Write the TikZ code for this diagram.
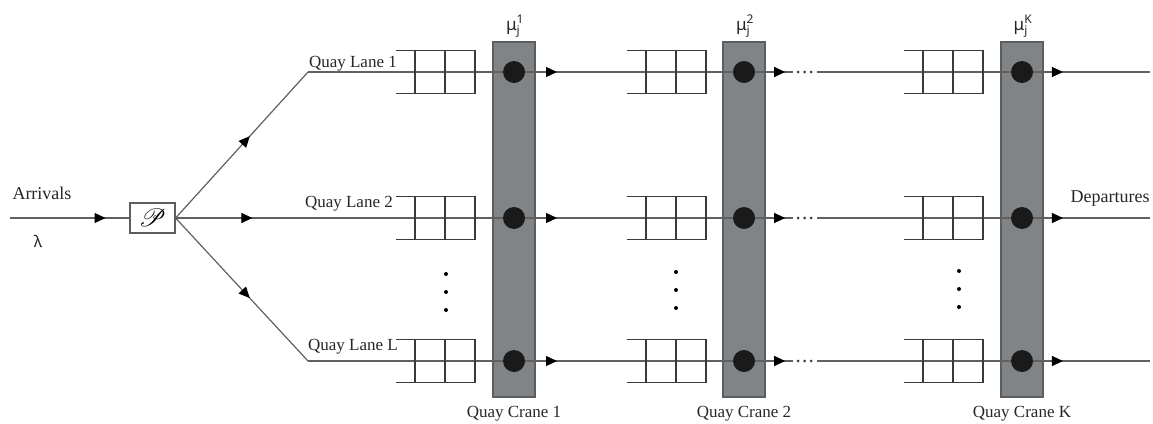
\documentclass[tikz,border=0pt]{standalone}
\usepackage{fontspec}
\usepackage{mathrsfs}
\setmainfont{Liberation Serif}
\newfontfamily\grk{Noto Sans}
\usetikzlibrary{arrows.meta,decorations.markings}
\definecolor{lanegray}{HTML}{606060}
\definecolor{qgray}{HTML}{3A3A3A}
\definecolor{cranefill}{HTML}{808486}
\definecolor{craneedge}{HTML}{5A5E60}
\definecolor{dotfill}{HTML}{1A1A1A}
\begin{document}
\begin{tikzpicture}[x=1pt,y=-1pt,
  lane/.style={draw=lanegray, line width=1.2pt},
  arrowat/.style={postaction={decorate,decoration={markings,
      mark=at position #1 with {\arrow{Triangle[length=11pt,width=10pt,color=black]}}}}},
  qline/.style={draw=qgray, line width=1.6pt},
  crane/.style={draw=craneedge, fill=cranefill, line width=1.2pt, minimum width=42pt, minimum height=355pt, inner sep=0pt},
  dot/.style={circle, fill=dotfill, minimum size=22pt, inner sep=0pt},
  vdot/.style={circle, fill=black, minimum size=4pt, inner sep=0pt},
  hdot/.style={circle, fill=qgray, minimum size=3pt, inner sep=0pt},
  lbl/.style={inner sep=0pt, font=\fontsize{17}{20}\selectfont, text=black!85},
  biglbl/.style={inner sep=0pt, font=\fontsize{18}{21}\selectfont, text=black!85},
  grklbl/.style={inner sep=0pt, font=\grk\fontsize{16}{19}\selectfont, text=black!85},
  pboxstyle/.style={draw=craneedge, line width=1.2pt, minimum width=45pt, minimum height=30pt, inner sep=0pt},
  queue/.pic={
    \draw[qline] (-79,-21.5) -- (0,-21.5) -- (0,21.5) -- (-79,21.5);
    \draw[qline] (-60,-21.5) -- (-60,21.5);
    \draw[qline] (-30,-21.5) -- (-30,21.5);
  }]
\useasboundingbox (0,0) rectangle (1153,423);

% cranes
\node[crane] (c1) at (514,219.5) {};
\node[crane] (c2) at (744,219.5) {};
\node[crane] (ck) at (1022,219.5) {};

% mu labels
\newcommand{\mulabel}[1]{$\hbox{\grk\fontsize{17}{20}\selectfont μ}_{\hbox{\grk\fontsize{12}{14}\selectfont j}}^{\hbox{\grk\fontsize{12}{14}\selectfont #1}}$}
\node[inner sep=0pt, anchor=base, text=black!85] (m1) at (515,30) {\mulabel{1}};
\node[inner sep=0pt, anchor=base, text=black!85] (m2) at (745,30) {\mulabel{2}};
\node[inner sep=0pt, anchor=base, text=black!85] (mk) at (1023,30) {\mulabel{K}};

% dispatcher
\coordinate (in) at (10,218);
\node[pboxstyle] (pbox) at (152.5,218) {\fontsize{25}{28}\selectfont$\mathscr{P}$};
\draw[lane, arrowat=0.8] (in) -- (pbox.west);

\foreach \n/\y in {1/72, 2/218, 3/361} {
  \coordinate (s\n) at (308,\y);
  \coordinate (e\n) at (793,\y);
  \coordinate (f\n) at (817,\y);
  \coordinate (g\n) at (1150,\y);
  \coordinate (a\n) at (514,\y);
  \coordinate (b\n) at (744,\y);
  \coordinate (k\n) at (1022,\y);
}
\draw[lane, arrowat=0.56] (pbox.east) -- (s1);
\draw[lane, arrowat=0.58] (pbox.east) -- (s2);
\draw[lane, arrowat=0.56] (pbox.east) -- (s3);

\foreach \n in {1,2,3} {
  \draw[lane] (s\n) -- (a\n);
  \draw[lane, arrowat=0.187] (a\n) -- (b\n);
  \draw[lane, arrowat=0.84] (b\n) -- (e\n);
  \draw[lane] (f\n) -- (k\n);
  \draw[lane, arrowat=0.32] (k\n) -- (g\n);
}

\foreach \y in {72,218,361} {
  \pic at (475,\y) {queue};
  \pic at (706,\y) {queue};
  \pic at (983,\y) {queue};
  \node[hdot] at (798,\y) {};
  \node[hdot] at (804.5,\y) {};
  \node[hdot] at (811,\y) {};
}

\foreach \n in {1,2,3} {
  \node[dot] (da\n) at (a\n) {};
  \node[dot] (db\n) at (b\n) {};
  \node[dot] (dk\n) at (k\n) {};
}

% vertical ellipses
\foreach \x/\y in {446/274, 676/272, 959/271} {
  \node[vdot] at (\x,\y) {};
  \node[vdot] at (\x,\y+18) {};
  \node[vdot] at (\x,\y+36) {};
}

% labels
\node[biglbl, anchor=base] (arrivals) at (42,199) {Arrivals};
\node[grklbl] (lambda) at (38,241) {λ};
\node[biglbl, anchor=base] (departures) at (1110,202) {Departures};
\node[lbl, anchor=base east] (ql1) at (397,67) {Quay Lane 1};
\node[lbl, anchor=base east] (ql2) at (393,207) {Quay Lane 2};
\node[lbl, anchor=base east] (qll) at (398,350) {Quay Lane L};
\node[lbl, anchor=base] (qc1) at (514,417) {Quay Crane 1};
\node[lbl, anchor=base] (qc2) at (744,417) {Quay Crane 2};
\node[lbl, anchor=base] (qck) at (1022,417) {Quay Crane K};
\end{tikzpicture}
\end{document}
